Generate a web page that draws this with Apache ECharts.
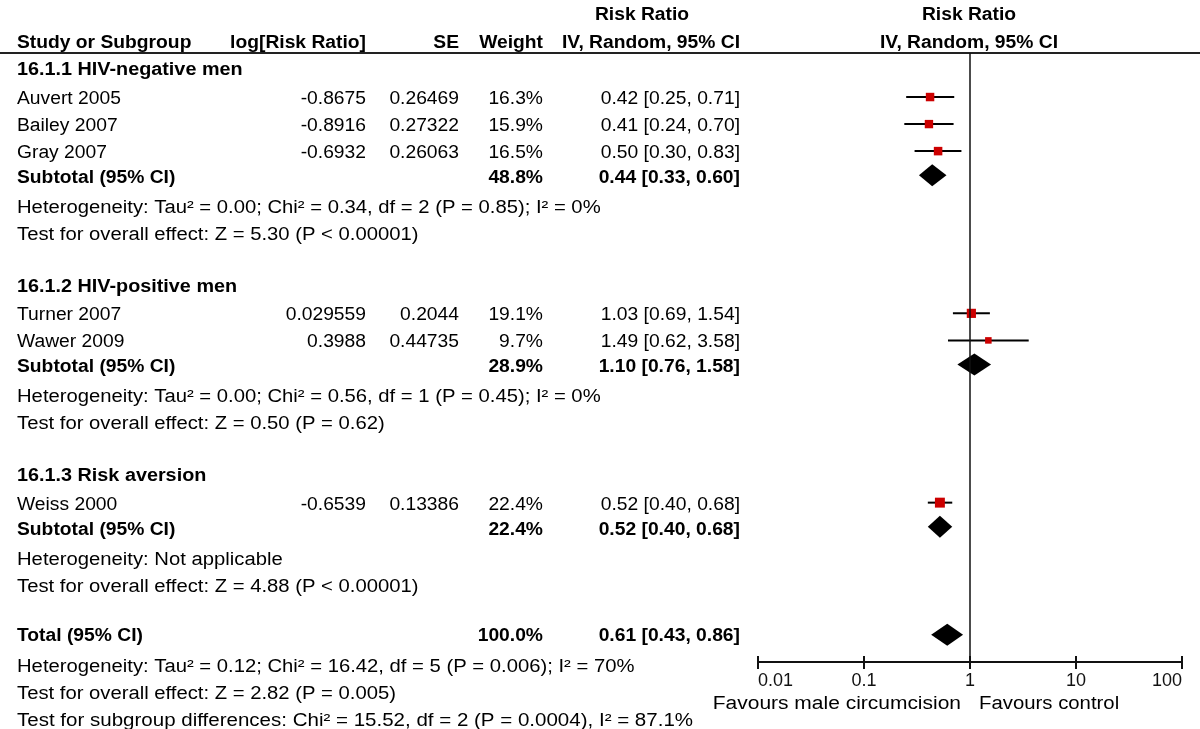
<!DOCTYPE html>
<html><head><meta charset="utf-8">
<script src="https://cdn.jsdelivr.net/npm/echarts@6/dist/echarts.min.js"></script>
<style>html,body{margin:0;padding:0;background:#fff}#c{width:1200px;height:729px}</style>
</head><body><div id="c"></div>
<script>
// ---------- data ----------
const studies   = ['Auvert 2005','Bailey 2007','Gray 2007','Turner 2007','Wawer 2009','Weiss 2000'];
const logRR     = ['-0.8675','-0.8916','-0.6932','0.029559','0.3988','-0.6539'];
const seVals    = ['0.26469','0.27322','0.26063','0.2044','0.44735','0.13386'];
const weights   = [16.3, 15.9, 16.5, 19.1, 9.7, 22.4];
const rrEst     = [0.42, 0.41, 0.50, 1.03, 1.49, 0.52];
const rrLow     = [0.25, 0.24, 0.30, 0.69, 0.62, 0.40];
const rrHigh    = [0.71, 0.70, 0.83, 1.54, 3.58, 0.68];
const studyRow  = [1, 2, 3, 9, 10, 16];

const groupNames  = ['16.1.1 HIV-negative men','16.1.2 HIV-positive men','16.1.3 Risk aversion'];
const groupRow    = [0, 8, 15];
const subWeights  = ['48.8%','28.9%','22.4%'];
const subEst      = [0.44, 1.10, 0.52];
const subLow      = [0.33, 0.76, 0.40];
const subHigh     = [0.60, 1.58, 0.68];
const subRow      = [4, 11, 17];
const subHet      = ['Heterogeneity: Tau\u00B2 = 0.00; Chi\u00B2 = 0.34, df = 2 (P = 0.85); I\u00B2 = 0%',
                     'Heterogeneity: Tau\u00B2 = 0.00; Chi\u00B2 = 0.56, df = 1 (P = 0.45); I\u00B2 = 0%',
                     'Heterogeneity: Not applicable'];
const subTest     = ['Test for overall effect: Z = 5.30 (P < 0.00001)',
                     'Test for overall effect: Z = 0.50 (P = 0.62)',
                     'Test for overall effect: Z = 4.88 (P < 0.00001)'];

const totalEst = 0.61, totalLow = 0.43, totalHigh = 0.86, totalRow = 21, totalWeight = '100.0%';
const totalNotes = ['Heterogeneity: Tau\u00B2 = 0.12; Chi\u00B2 = 16.42, df = 5 (P = 0.006); I\u00B2 = 70%',
                    'Test for overall effect: Z = 2.82 (P = 0.005)',
                    'Test for subgroup differences: Chi\u00B2 = 15.52, df = 2 (P = 0.0004), I\u00B2 = 87.1%'];

const tickValues = [0.01, 0.1, 1, 10, 100];
const tickLabels = ['0.01', '0.1', '1', '10', '100'];
const favourLeft = 'Favours male circumcision';
const favourRight = 'Favours control';

// ---------- layout ----------
const FONT = '"Liberation Sans", Arial, sans-serif';
const FS = 18, SX = 1.07, SX_NOTE = 1.125;
const ROW0 = 70, ROWH = 27.04;
const GRID_TOP = 53, AXIS_Y = 662;
const rowY = r => ROW0 + ROWH * r;
const fmt = v => v.toFixed(2);
const ciText = (e, l, h) => fmt(e) + ' [' + fmt(l) + ', ' + fmt(h) + ']';

const COL = {name: 17, logrr: 366, se: 459, weight: 543, ci: 740};
const SHIFT = {study: 2, sub: 0, note: 3, total: -2, totalNote: 2, group: 0.5};
const DIAMOND_SHIFT = -3;

const g = [];
function txt(x, y, s, align, bold, sx) {
  g.push({type: 'text', x: x, y: y, scaleX: sx == null ? SX : sx, silent: true, z: 10,
    style: {text: s, x: 0, y: 0, fill: '#000',
      font: (bold ? 'bold ' : '') + FS + 'px ' + FONT,
      align: align, textAlign: align, verticalAlign: 'middle', textVerticalAlign: 'middle'}});
}
// headers
txt(642, 15, 'Risk Ratio', 'center', true);
txt(969, 15, 'Risk Ratio', 'center', true);
txt(COL.name, 43, 'Study or Subgroup', 'left', true);
txt(COL.logrr, 43, 'log[Risk Ratio]', 'right', true);
txt(COL.se, 43, 'SE', 'right', true);
txt(COL.weight, 43, 'Weight', 'right', true);
txt(COL.ci, 43, 'IV, Random, 95% CI', 'right', true);
txt(969, 43, 'IV, Random, 95% CI', 'center', true);
g.push({type: 'line', silent: true, shape: {x1: 0, y1: GRID_TOP, x2: 1200, y2: GRID_TOP},
  style: {stroke: '#222', lineWidth: 2}});

studies.forEach((s, i) => {
  const y = rowY(studyRow[i]) + SHIFT.study;
  txt(COL.name, y, s, 'left', false);
  txt(COL.logrr, y, logRR[i], 'right', false);
  txt(COL.se, y, seVals[i], 'right', false);
  txt(COL.weight, y, weights[i].toFixed(1) + '%', 'right', false);
  txt(COL.ci, y, ciText(rrEst[i], rrLow[i], rrHigh[i]), 'right', false);
});
groupNames.forEach((s, i) => {
  txt(COL.name, rowY(groupRow[i]) + SHIFT.group, s, 'left', true, 1.1);
  const y = rowY(subRow[i]) + SHIFT.sub;
  txt(COL.name, y, 'Subtotal (95% CI)', 'left', true);
  txt(COL.weight, y, subWeights[i], 'right', true);
  txt(COL.ci, y, ciText(subEst[i], subLow[i], subHigh[i]), 'right', true);
  txt(COL.name, rowY(subRow[i] + 1) + SHIFT.note, subHet[i], 'left', false, SX_NOTE);
  txt(COL.name, rowY(subRow[i] + 2) + SHIFT.note, subTest[i], 'left', false, SX_NOTE);
});
txt(COL.name, rowY(totalRow) + SHIFT.total, 'Total (95% CI)', 'left', true);
txt(COL.weight, rowY(totalRow) + SHIFT.total, totalWeight, 'right', true);
txt(COL.ci, rowY(totalRow) + SHIFT.total, ciText(totalEst, totalLow, totalHigh), 'right', true);
totalNotes.forEach((s, i) => txt(COL.name, rowY(totalRow + 1 + i) + SHIFT.totalNote, s, 'left', false,
  i === 2 ? 1.14 : SX_NOTE));
txt(961, 704, favourLeft, 'right', false, 1.165);
txt(979, 704, favourRight, 'left', false, 1.13);

// ---------- series data ----------
const studyData = studies.map((s, i) => [rrLow[i], rrHigh[i], rrEst[i], studyRow[i], weights[i]]);
const diamondData = subEst.map((e, i) => [subLow[i], subHigh[i], e, subRow[i]])
  .concat([[totalLow, totalHigh, totalEst, totalRow]]);

const yMin = (GRID_TOP - ROW0) / ROWH, yMax = (AXIS_Y - ROW0) / ROWH;

const chart = echarts.init(document.getElementById('c'), null, {renderer: 'canvas'});
const logAxisBase = {type: 'log', logBase: 10, min: 0.01, max: 100, position: 'bottom', gridIndex: 0,
  splitLine: {show: false}};
chart.setOption({
  animation: false,
  backgroundColor: '#fff',
  grid: {left: 758, right: 18, top: GRID_TOP, bottom: 729 - AXIS_Y, containLabel: false},
  xAxis: [
    Object.assign({}, logAxisBase, {
      axisLine: {show: true, onZero: false, lineStyle: {color: '#111', width: 2}},
      axisTick: {show: true, inside: false, length: 7, lineStyle: {color: '#111', width: 2}},
      axisLabel: {show: true, margin: 10, color: '#111', fontSize: FS, fontFamily: FONT,
        alignMinLabel: 'left', alignMaxLabel: 'right',
        formatter: v => { const k = tickValues.findIndex(t => Math.abs(Math.log10(t) - Math.log10(v)) < 1e-6);
          return k >= 0 ? tickLabels[k] : ''; }}
    }),
    Object.assign({}, logAxisBase, {
      axisLine: {show: false, onZero: false},
      axisTick: {show: true, inside: true, length: 6, lineStyle: {color: '#111', width: 2}},
      axisLabel: {show: false}
    })
  ],
  yAxis: {type: 'value', min: yMin, max: yMax, inverse: true, show: false},
  series: [
    {
      type: 'custom', name: 'ci', xAxisIndex: 0, yAxisIndex: 0, z: 2,
      encode: {x: [0, 1, 2], y: 3},
      data: studyData,
      renderItem: (params, api) => {
        const a = api.coord([api.value(0), api.value(3)]);
        const b = api.coord([api.value(1), api.value(3)]);
        return {type: 'line', shape: {x1: a[0], y1: a[1], x2: b[0], y2: b[1]},
          style: {stroke: '#000', lineWidth: 2}};
      },
      markLine: {
        silent: true, symbol: 'none', label: {show: false},
        lineStyle: {color: '#111', width: 1.5, type: 'solid'},
        data: [{xAxis: 1}]
      }
    },
    {
      type: 'custom', name: 'est', xAxisIndex: 0, yAxisIndex: 0, z: 3,
      encode: {x: 2, y: 3},
      data: studyData,
      renderItem: (params, api) => {
        const c = api.coord([api.value(2), api.value(3)]);
        const s = 2.1 * Math.sqrt(api.value(4));
        return {type: 'rect', shape: {x: c[0] - s / 2, y: c[1] - s / 2, width: s, height: s},
          style: {fill: '#cc0000'}};
      }
    },
    {
      type: 'custom', name: 'diamond', xAxisIndex: 0, yAxisIndex: 0, z: 3,
      encode: {x: [0, 1, 2], y: 3},
      data: diamondData,
      renderItem: (params, api) => {
        const l = api.coord([api.value(0), api.value(3)]);
        const h = api.coord([api.value(1), api.value(3)]);
        const e = api.coord([api.value(2), api.value(3)]);
        const hh = 11, d = DIAMOND_SHIFT;
        return {type: 'polygon', shape: {points: [[l[0], l[1] + d], [e[0], e[1] - hh + d], [h[0], h[1] + d], [e[0], e[1] + hh + d]]},
          style: {fill: '#000'}};
      }
    }
  ],
  graphic: g
});
</script></body></html>
